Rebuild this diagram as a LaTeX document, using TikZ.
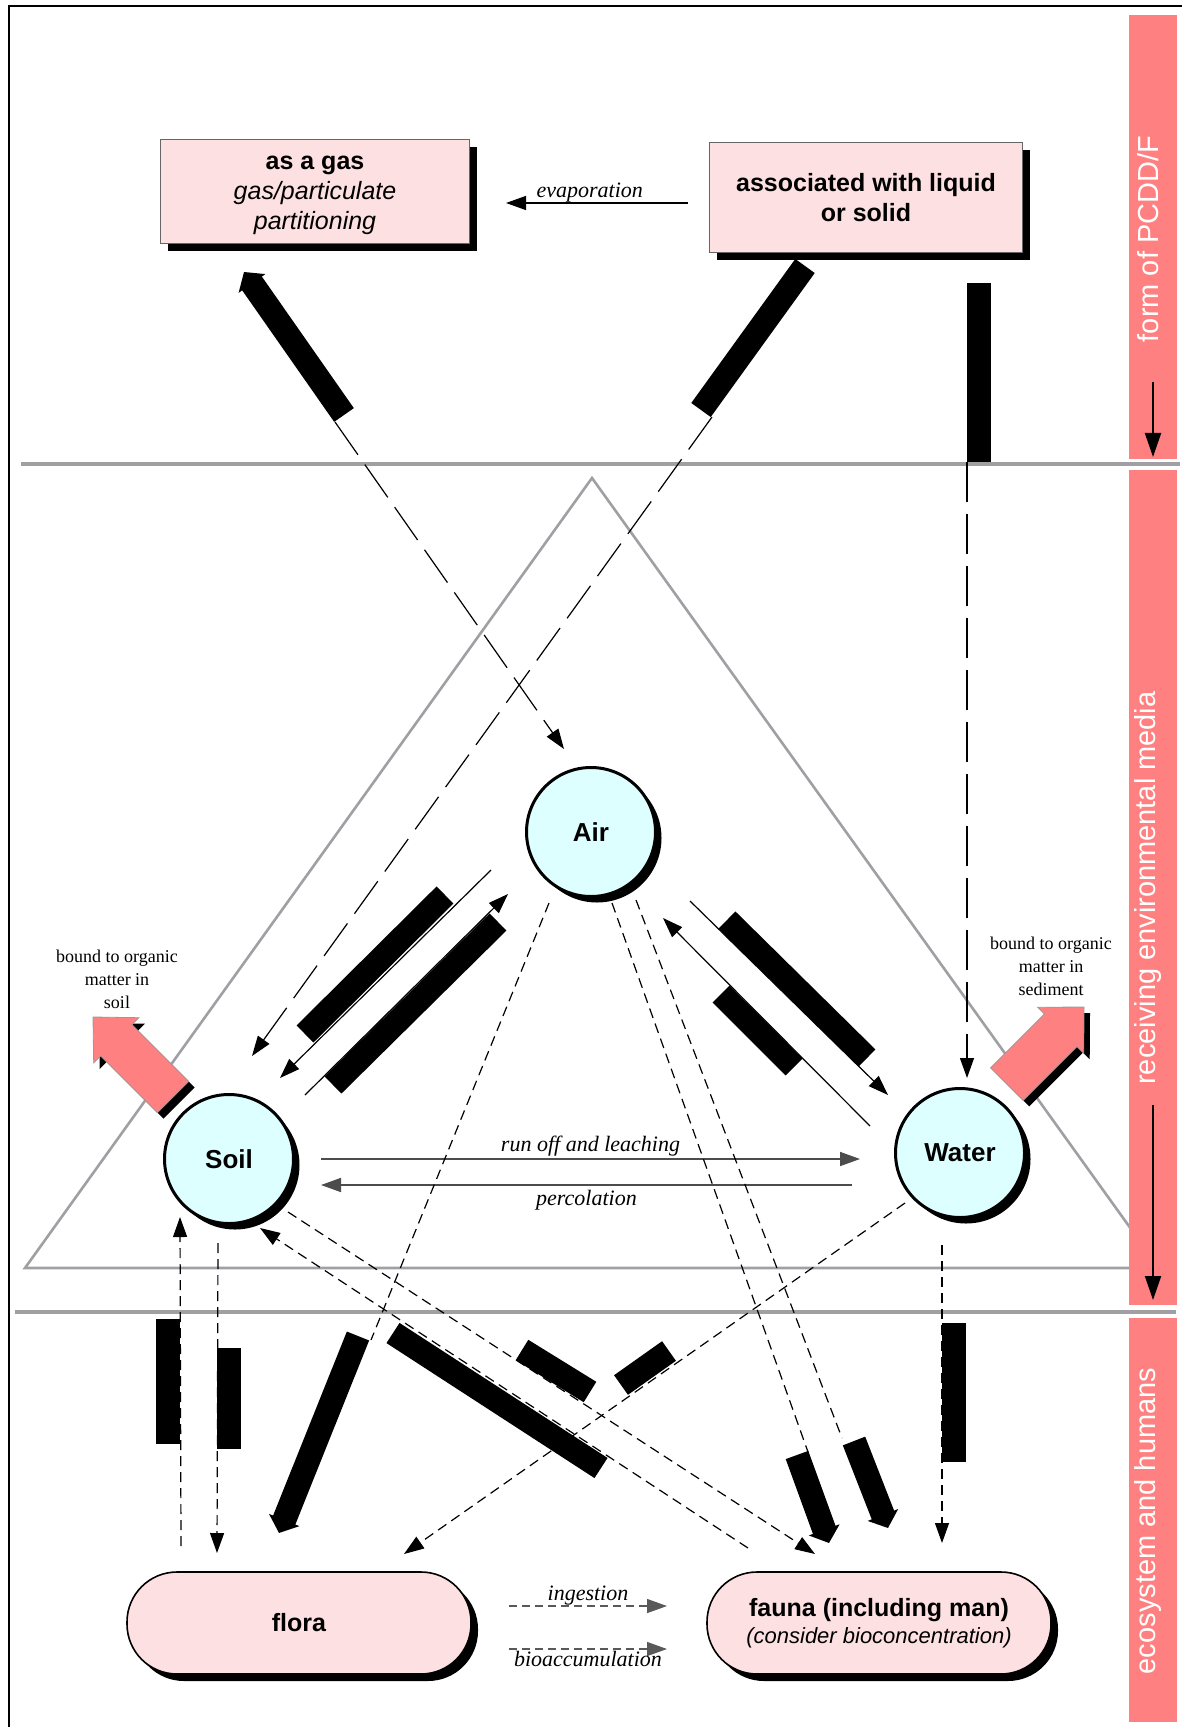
\documentclass[tikz,border=0pt]{standalone}
\usepackage{fontspec}
\setmainfont{Liberation Serif}
\setsansfont{Liberation Sans}
\usetikzlibrary{arrows.meta,shadows,calc}

\definecolor{boxpink}{RGB}{253,224,225}
\definecolor{aircyan}{RGB}{222,255,255}
\definecolor{salmon}{RGB}{255,128,128}
\definecolor{rulegray}{RGB}{160,160,164}

\tikzset{
  frameline/.style={line width=1pt},
  ruleline/.style={rulegray, line width=2pt},
  blackshadow/.style={drop shadow={shadow xshift=#1, shadow yshift=-#1, fill=black, opacity=1}},
  formbox/.style={draw=black!60, line width=0.5pt, fill=boxpink, align=center, inner sep=2pt,
    font=\sffamily\fontsize{12.5}{15}\selectfont, blackshadow=3.5pt},
  compartment/.style={circle, draw, line width=1.5pt, fill=aircyan, minimum size=64.5pt, inner sep=0pt,
    font=\sffamily\bfseries\fontsize{13}{15}\selectfont, blackshadow=3pt},
  biota/.style={draw, line width=0.8pt, fill=boxpink, rounded corners=25pt, minimum width=172pt,
    minimum height=51pt, align=center, font=\sffamily\fontsize{12.5}{13.5}\selectfont, blackshadow=3.5pt},
  sidetext/.style={rotate=90, text=white, font=\sffamily\fontsize{14.5}{17}\selectfont},
  sidearrow/.style={line width=1pt, -{Triangle[length=12pt,width=8pt]}},
  sinkarrow/.style={fill=salmon, draw=black!40, line width=0.4pt, blackshadow=3pt},
  note/.style={align=center, font=\fontsize{9}{11.5}\selectfont},
  flowlabel/.style={text=black, font=\itshape\fontsize{11}{13}\selectfont},
  flowline/.style={line width=0.6pt},
  flow/.style={flowline, -{Triangle[length=10pt,width=7pt]}},
  longdash/.style={flow, dash pattern=on 20pt off 6pt},
  shortline/.style={flowline, dash pattern=on 5pt off 3pt},
  shortdash/.style={flow, dash pattern=on 5pt off 3pt},
  runoff/.style={flow, black!70, line width=0.8pt},
  feeding/.style={flow, black!65, line width=0.7pt, dash pattern=on 4pt off 2.5pt},
  massbar/.style={line width=12pt},
  masshead/.style={massbar, -{Triangle[length=7pt,width=16pt]}},
}

\begin{document}
\begin{tikzpicture}[x=0.5pt, y=-0.5pt]
\useasboundingbox (0,0) rectangle (1182,1727);

% frame, triangle and zone rules
\draw[frameline] (9,1727) -- (9,6) -- (1182,6);
\draw[rulegray, line width=1.3pt] (25,1268) -- (592,478) -- (1159,1268) -- cycle;
\draw[ruleline] (21,464) -- (1180,464);
\draw[ruleline] (15,1312) -- (1176,1312);

% side bands
\fill[salmon] (1129,15) rectangle (1177,459);
\fill[salmon] (1129,470) rectangle (1177,1305);
\fill[salmon] (1129,1318) rectangle (1177,1722);
\node[sidetext] (formlabel) at (1148,239) {form of PCDD/F};
\node[sidetext] (medialabel) at (1148,888) {receiving environmental media};
\node[sidetext] (biotalabel) at (1148,1521) {ecosystem and humans};
\draw[sidearrow] (1153,382) -- (1153,457);
\draw[sidearrow] (1153,1105) -- (1153,1300);

% forms
\node[formbox, minimum width=154.5pt, minimum height=52pt] (gas) at (315,192)
  {\textbf{as a gas}\strut\\\textit{gas/particulate}\\\textit{partitioning}};
\node[formbox, minimum width=156.5pt, minimum height=55pt] (liquid) at (866,198)
  {\textbf{associated with liquid}\\\textbf{or solid}};

% media
\node[compartment] (air) at (591,832) {Air};
\node[compartment] (soil) at (229,1159) {Soil};
\node[compartment] (water) at (960,1153) {Water};

% ecosystem
\node[biota] (flora) at (299,1623) {\textbf{flora}};
\node[biota] (fauna) at (879,1623)
  {\textbf{fauna (including man)}\\\textit{\fontsize{11}{13.5}\selectfont(consider bioconcentration)}};

% transfers from the forms
\draw[flow] ($(liquid)+(-178,5)$) -- node[flowlabel, above, inner sep=0pt, pos=0.54] {evaporation} ($(gas)+(191,11)$);
\draw[longdash] ($(gas)+(20,230)$) -- ($(air)+(-27,-83)$);
\draw[longdash] ($(liquid)+(-154,219)$) -- ($(soil)+(23,-103)$);
\draw[longdash] ($(liquid)+(101,264)$) -- ($(water)+(7,-75)$);

% exchange between media
\draw[flow] ($(air)+(-100,38)$) -- ($(soil)+(51,-81)$);
\draw[flow] ($(soil)+(76,-64)$) -- ($(air)+(-83,62)$);
\draw[flow] ($(water)+(-90,-27)$) -- ($(air)+(72,86)$);
\draw[flow] ($(air)+(99,69)$) -- ($(water)+(-72,-58)$);
\draw[runoff] ($(soil)+(92,0)$) -- node[flowlabel, above, inner sep=1pt] {run off and leaching} ($(water)+(-100,6)$);
\draw[runoff] ($(water)+(-108,32)$) -- node[flowlabel, below, inner sep=2pt] {percolation} ($(soil)+(92,26)$);

% media to ecosystem
\draw[shortline] ($(air)+(-42,71)$) -- ($(flora)+(72,-283)$);
\draw[shortline] ($(air)+(21,71)$) -- ($(fauna)+(-71,-171)$);
\draw[shortline] ($(air)+(45,68)$) -- ($(fauna)+(-37,-185)$);
\draw[shortdash] ($(soil)+(-11,84)$) -- ($(flora)+(-82,-70)$);
\draw[shortdash] ($(flora)+(-118,-77)$) -- ($(soil)+(-49,58)$);
\draw[shortdash] ($(soil)+(59,53)$) -- ($(fauna)+(-64,-69)$);
\draw[shortdash] ($(fauna)+(-131,-75)$) -- ($(soil)+(31,69)$);
\draw[shortdash] ($(water)+(-55,50)$) -- ($(flora)+(105,-69)$);
\draw[shortdash] ($(water)+(-18,92)$) -- ($(fauna)+(63,-80)$);
\draw[feeding] ($(flora)+(210,-17)$) -- node[flowlabel, anchor=base, yshift=3pt] {ingestion} ($(fauna)+(-212,-17)$);
\draw[feeding] ($(flora)+(210,26)$) -- node[flowlabel, below, inner sep=1pt] {bioaccumulation} ($(fauna)+(-212,26)$);

% main pathways
\draw[masshead] (344,415) -- (244,272);
\draw[massbar] (805,266) -- (701,410);
\draw[massbar] (979,283) -- (979,462);
\draw[massbar] (445,895) -- (305,1034);
\draw[massbar] (498,922) -- (333,1085);
\draw[massbar] (727,920) -- (867,1058);
\draw[massbar] (721,994) -- (794,1067);
\draw[massbar] (168,1319) -- (168,1444);
\draw[massbar] (229,1348) -- (229,1449);
\draw[masshead] (358,1336) -- (279,1533);
\draw[massbar] (393,1333) -- (601,1468);
\draw[massbar] (522,1350) -- (590,1392);
\draw[massbar] (621,1385) -- (669,1351);
\draw[masshead] (797,1455) -- (829,1543);
\draw[masshead] (854,1441) -- (888,1528);
\draw[massbar] (954,1323) -- (954,1462);

% binding to organic matter
\filldraw[sinkarrow] (188.6,1081.4) -- (131.9,1024.7) -- (138.9,1017.7) -- (93,1017)
  -- (93.7,1062.9) -- (100.7,1055.9) -- (157.4,1112.6) -- cycle;
\filldraw[sinkarrow] (1023.2,1100.4) -- (1077,1046.6) -- (1083.7,1053.3) -- (1084,1007)
  -- (1037.7,1007.3) -- (1044.4,1014) -- (990.6,1067.8) -- cycle;
\node[note] (soilnote) at (117,979) {bound to organic\\matter in\\soil};
\node[note] (waternote) at (1051,966) {bound to organic\\matter in\\sediment};
\end{tikzpicture}
\end{document}
